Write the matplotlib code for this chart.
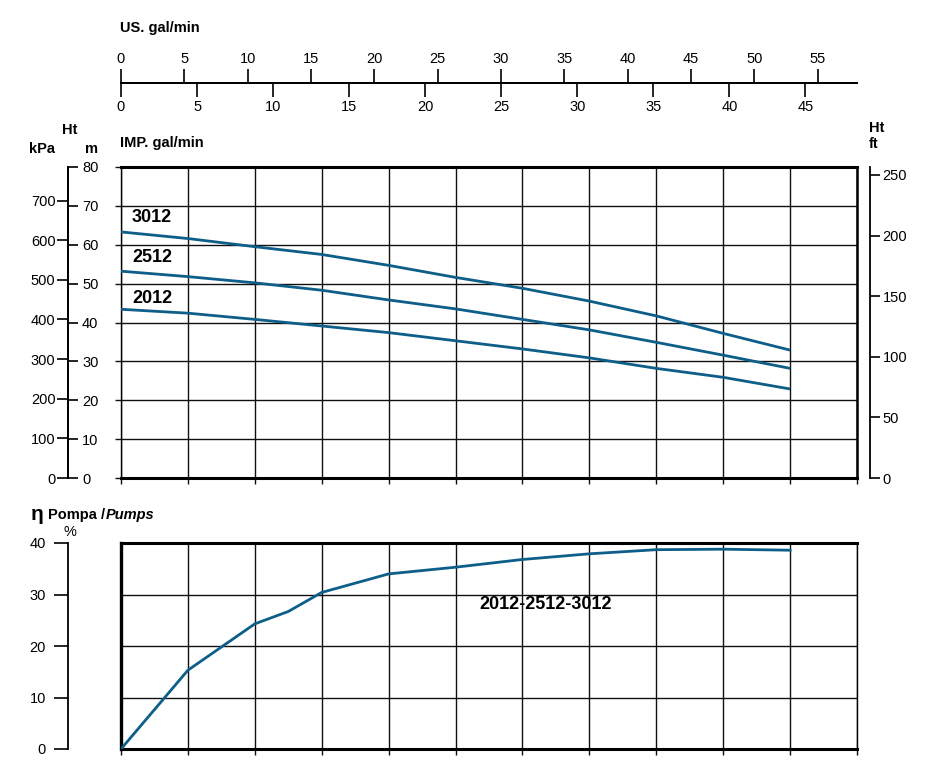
"""Pump performance chart 2012 / 2512 / 3012: head and efficiency vs flow."""
import matplotlib
matplotlib.use("Agg")
import matplotlib.pyplot as plt
import numpy as np

plt.rcParams["font.family"] = ["Liberation Sans", "DejaVu Sans"]

W, H = 928, 763
LINE = "#0d5e88"
FS = 10.5

# flow in l/min (base unit of the chart)
flow = [0, 20, 40, 60, 80, 100, 120, 140, 160, 180, 200]
head_3012 = [63.3, 61.6, 59.5, 57.5, 54.7, 51.6, 48.8, 45.5, 41.7, 37.2, 32.9]
head_2512 = [53.2, 51.8, 50.2, 48.3, 45.8, 43.5, 40.8, 38.1, 34.9, 31.6, 28.2]
head_2012 = [43.4, 42.4, 40.8, 39.1, 37.4, 35.3, 33.2, 30.9, 28.2, 25.9, 22.9]
models = ["3012", "2512", "2012"]
label_y = [67.1, 56.8, 46.3]

eff_flow = [0, 20, 40, 50, 60, 80, 100, 120, 140, 160, 180, 200]
eff = [0, 15.3, 24.3, 26.7, 30.4, 34.0, 35.3, 36.8, 37.9, 38.7, 38.8, 38.6]

us_ticks = [0, 5, 10, 15, 20, 25, 30, 35, 40, 45, 50, 55]
imp_ticks = [0, 5, 10, 15, 20, 25, 30, 35, 40, 45]
kpa_ticks = [0, 100, 200, 300, 400, 500, 600, 700]
m_ticks = [0, 10, 20, 30, 40, 50, 60, 70, 80]
ft_ticks = [0, 50, 100, 150, 200, 250]
eff_ticks = [0, 10, 20, 30, 40]

Q_MAX = 220
H_MAX = 80
US_PER_L = 0.264172
IMP_PER_L = 0.219969
KPA_PER_M = 9.81
FT_PER_M = 3.207


def box(x0, y0, x1, y1):
    """pixel box (top-left origin) -> figure rect"""
    return [x0 / W, 1 - y1 / H, (x1 - x0) / W, (y1 - y0) / H]


def ftext(x, y, s, **kw):
    kw.setdefault("fontsize", FS)
    kw.setdefault("va", "center")
    fig.text(x / W, 1 - y / H, s, **kw)


fig = plt.figure(figsize=(W / 100, H / 100), dpi=100)

# ---- head chart
ax = fig.add_axes(box(121, 167, 857, 478))
ax.set_xlim(0, Q_MAX)
ax.set_ylim(0, H_MAX)
ax.set_xticks(np.arange(0, Q_MAX + 1, 20))
ax.set_yticks(m_ticks)
ax.tick_params(labelbottom=False, labelleft=False, length=4, width=1, color="#111")
ax.grid(True, color="#111", linewidth=1.0)
for side, lw in [("top", 2.2), ("bottom", 2.2), ("right", 1.8), ("left", 1.0)]:
    ax.spines[side].set_linewidth(lw)
for name, h, ly in zip(models, [head_3012, head_2512, head_2012], label_y):
    ax.plot(flow, h, color=LINE, linewidth=2.0, solid_capstyle="butt", zorder=3)
    ax.text(3.3, ly, name, fontsize=13, fontweight="bold", va="center", ha="left")

# left scales: m (ticks right) and kPa (ticks left)
ax_m = fig.add_axes(box(68, 167, 68.1, 478))
ax_m.set_ylim(0, H_MAX)
ax_m.patch.set_visible(False)
for s in ["top", "bottom", "left"]:
    ax_m.spines[s].set_visible(False)
ax_m.spines["right"].set_linewidth(1.3)
ax_m.set_xticks([])
ax_m.yaxis.tick_right()
ax_m.set_yticks(m_ticks)
ax_m.tick_params(axis="y", length=7, width=1.2, pad=3, labelsize=FS)

ax_k = fig.add_axes(box(68, 167, 68.1, 478))
ax_k.set_ylim(0, H_MAX * KPA_PER_M)
ax_k.patch.set_visible(False)
for s in ["top", "bottom", "right"]:
    ax_k.spines[s].set_visible(False)
ax_k.spines["left"].set_linewidth(1.3)
ax_k.set_xticks([])
ax_k.set_yticks(kpa_ticks)
ax_k.tick_params(axis="y", length=8, width=1.2, pad=1, labelsize=FS)

# right scale: ft
ax_f = fig.add_axes(box(870, 167, 870.1, 478))
ax_f.set_ylim(0, H_MAX * FT_PER_M)
ax_f.patch.set_visible(False)
for s in ["top", "bottom", "left"]:
    ax_f.spines[s].set_visible(False)
ax_f.spines["right"].set_linewidth(1.3)
ax_f.set_xticks([])
ax_f.yaxis.tick_right()
ax_f.set_yticks(ft_ticks)
ax_f.tick_params(axis="y", length=7, width=1.2, pad=2, labelsize=FS)

# top flow scales: US gal/min above, IMP gal/min below
ax_us = fig.add_axes(box(121, 83, 857, 83.1))
ax_us.set_xlim(0, Q_MAX * US_PER_L)
ax_us.patch.set_visible(False)
for s in ["bottom", "left", "right"]:
    ax_us.spines[s].set_visible(False)
ax_us.spines["top"].set_linewidth(1.3)
ax_us.set_yticks([])
ax_us.xaxis.tick_top()
ax_us.set_xticks(us_ticks)
ax_us.tick_params(axis="x", length=10, width=1.2, pad=2, labelsize=FS)

ax_imp = fig.add_axes(box(121, 83, 857, 83.1))
ax_imp.set_xlim(0, Q_MAX * IMP_PER_L)
ax_imp.patch.set_visible(False)
for s in ["top", "left", "right"]:
    ax_imp.spines[s].set_visible(False)
ax_imp.spines["bottom"].set_linewidth(1.3)
ax_imp.set_yticks([])
ax_imp.set_xticks(imp_ticks)
ax_imp.tick_params(axis="x", length=10, width=1.2, pad=2, labelsize=FS)

# ---- efficiency chart
ax_e = fig.add_axes(box(121, 543, 857, 749))
ax_e.set_xlim(0, Q_MAX)
ax_e.set_ylim(0, 40)
ax_e.set_xticks(np.arange(0, Q_MAX + 1, 20))
ax_e.set_yticks(eff_ticks)
ax_e.tick_params(labelbottom=False, labelleft=False, left=False, length=4, width=1, color="#111")
ax_e.grid(True, color="#111", linewidth=1.0)
for side, lw in [("top", 2.2), ("bottom", 2.2), ("left", 2.4), ("right", 1.0)]:
    ax_e.spines[side].set_linewidth(lw)
ax_e.plot(eff_flow, eff, color=LINE, linewidth=2.0, zorder=3)
ax_e.text(107, 28, "2012-2512-3012", fontsize=13, fontweight="bold", va="center", ha="left")

ax_p = fig.add_axes(box(68, 543, 68.1, 749))
ax_p.set_ylim(0, 40)
ax_p.patch.set_visible(False)
for s in ["top", "bottom", "right"]:
    ax_p.spines[s].set_visible(False)
ax_p.spines["left"].set_linewidth(1.3)
ax_p.set_xticks([])
ax_p.set_yticks(eff_ticks)
ax_p.tick_params(axis="y", length=10, width=1.2, pad=6, labelsize=FS)

# ---- axis captions
ftext(120, 28, "US. gal/min", fontweight="bold")
ftext(120, 143, "IMP. gal/min", fontweight="bold")
ftext(62, 130, "Ht", fontweight="bold")
ftext(29, 149, "kPa", fontweight="bold")
ftext(85, 149, "m", fontweight="bold")
ftext(869, 128, "Ht", fontweight="bold")
ftext(869, 144, "ft", fontweight="bold")
ftext(31, 514, "η", fontweight="bold", fontsize=15)
ftext(48, 515, "Pompa /", fontweight="bold")
ftext(106, 515, "Pumps", fontweight="bold", style="italic")
ftext(64, 532, "%")

fig.savefig("out.png", dpi=100, facecolor="white")
